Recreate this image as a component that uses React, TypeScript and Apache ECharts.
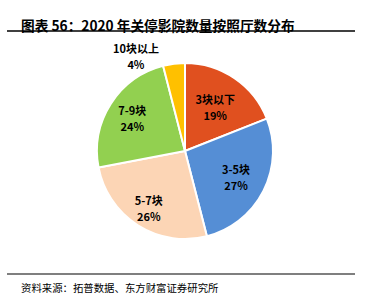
import React, { useEffect, useRef } from "react";
import * as echarts from "echarts";

// Closed cinemas in 2020, grouped by number of screens
const categories = ["3块以下", "3-5块", "5-7块", "7-9块", "10块以上"];
const shares = [19, 27, 26, 24, 4];
const colors = ["#E0501F", "#558ED5", "#FCD5B5", "#92D050", "#FFC000"];

const titleText = "图表 56：2020 年关停影院数量按照厅数分布";
const sourceText = "资料来源：拓普数据、东方财富证券研究所";

// Pie geometry and label placement (radius factor, angle shift in degrees)
const CX = 185;
const CY = 151;
const R = 88;
const labelSpots = [
  { k: 0.61, shift: 0 },
  { k: 0.65, shift: 0 },
  { k: 0.77, shift: 0 },
  { k: 0.71, shift: 0 },
  { k: 1.22, shift: -20 },
];

export default function App() {
  const ref = useRef<HTMLDivElement>(null);

  useEffect(() => {
    if (!ref.current) return;
    const chart = echarts.init(ref.current, null, { renderer: "svg" });
    const total = shares.reduce((a, b) => a + b, 0);
    const midAngles: number[] = [];
    let acc = 0;
    shares.forEach((v) => {
      midAngles.push(((acc + v / 2) / total) * 360);
      acc += v;
    });

    chart.setOption({
      animation: false,
      backgroundColor: "#ffffff",
      title: [
        {
          text: titleText,
          left: 16,
          top: 13,
          textStyle: {
            fontFamily: "Noto Sans CJK SC",
            fontWeight: "bold",
            fontSize: 13.7,
            color: "#000",
          },
        },
        {
          text: sourceText,
          left: 16,
          top: 277,
          textStyle: {
            fontFamily: "Noto Sans CJK SC",
            fontWeight: "normal",
            fontSize: 10.4,
            color: "#000",
          },
        },
      ],
      graphic: [
        {
          type: "line",
          shape: { x1: 7, y1: 31, x2: 355, y2: 31 },
          style: { stroke: "#000", lineWidth: 1.5 },
        },
        {
          type: "line",
          shape: { x1: 7, y1: 274, x2: 355, y2: 274 },
          style: { stroke: "#000", lineWidth: 1.2 },
        },
      ],
      series: [
        {
          type: "pie",
          center: [CX, CY],
          radius: R,
          startAngle: 90,
          clockwise: true,
          avoidLabelOverlap: false,
          itemStyle: { borderColor: "#fff", borderWidth: 2 },
          label: {
            show: true,
            position: "inside",
            formatter: (p: any) => `${p.name}\n${p.value}%`,
            fontFamily: "Noto Sans CJK SC",
            fontWeight: "bold",
            fontSize: 11,
            lineHeight: 16,
            color: "#000",
            align: "center",
          },
          labelLine: { show: false },
          labelLayout: (params: any) => {
            const i = params.dataIndex;
            const spot = labelSpots[i];
            const a = ((midAngles[i] + spot.shift) * Math.PI) / 180;
            return {
              x: CX + spot.k * R * Math.sin(a),
              y: CY - spot.k * R * Math.cos(a),
              align: "center",
              verticalAlign: "middle",
            };
          },
          data: categories.map((name, i) => ({
            name,
            value: shares[i],
            itemStyle: { color: colors[i] },
          })),
        },
      ],
    });
    return () => chart.dispose();
  }, []);

  return (
    <div
      ref={ref}
      style={{ position: "fixed", left: 0, top: 0, width: 375, height: 301 }}
    />
  );
}
